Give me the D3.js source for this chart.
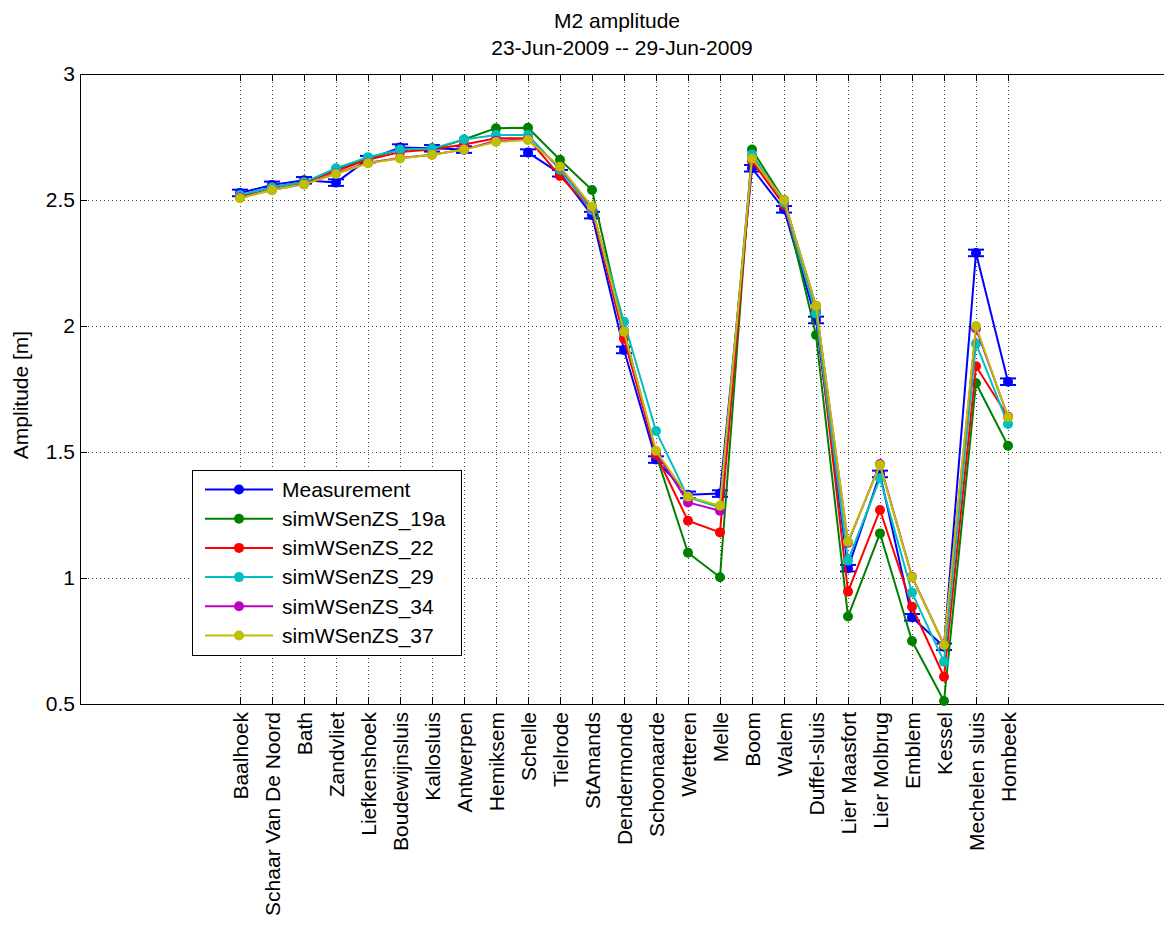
<!DOCTYPE html>
<html>
<head>
<meta charset="utf-8">
<script src="https://cdn.jsdelivr.net/npm/d3@7"></script>
<style>
  html, body { margin: 0; padding: 0; background: #fff; }
  svg { display: block; }
  text { font-family: "Liberation Sans", Arial, sans-serif; fill: #000; }
</style>
</head>
<body>
<svg id="chart" width="1164" height="937"></svg>
<script>
// Stations along the Scheldt / Rupel / Nete
const stations = ["Baalhoek", "Schaar Van De Noord", "Bath", "Zandvliet", "Liefkenshoek",
  "Boudewijnsluis", "Kallosluis", "Antwerpen", "Hemiksem", "Schelle", "Tielrode", "StAmands",
  "Dendermonde", "Schoonaarde", "Wetteren", "Melle", "Boom", "Walem", "Duffel-sluis",
  "Lier Maasfort", "Lier Molbrug", "Emblem", "Kessel", "Mechelen sluis", "Hombeek"];

// M2 amplitude [m]
const measurement = [2.528, 2.560, 2.578, 2.569, 2.662, 2.708, 2.705, 2.700, null, 2.688, 2.606, 2.440,
  1.905, 1.470, 1.330, 1.335, 2.626, 2.463, 2.024, 1.039, 1.413, 0.844, 0.727, 2.290, 1.779];
const measurementErr = 0.013;
const sim19a = [2.515, 2.550, 2.570, 2.620, 2.665, 2.700, 2.700, 2.740, 2.785, 2.787, 2.660, 2.540,
  1.980, 1.490, 1.100, 1.003, 2.700, 2.500, 1.964, 0.847, 1.177, 0.750, 0.512, 1.773, 1.525];
const sim22 = [2.515, 2.550, 2.570, 2.615, 2.660, 2.690, 2.700, 2.720, 2.745, 2.745, 2.595, 2.460,
  1.950, 1.490, 1.227, 1.181, 2.655, 2.480, 2.060, 0.946, 1.270, 0.886, 0.608, 1.840, 1.640];
const sim29 = [2.520, 2.550, 2.570, 2.626, 2.670, 2.700, 2.704, 2.740, 2.758, 2.758, 2.620, 2.460,
  2.017, 1.583, 1.320, 1.280, 2.680, 2.490, 2.050, 1.069, 1.396, 0.942, 0.668, 1.930, 1.611];
const sim34 = [2.510, 2.540, 2.563, 2.605, 2.648, 2.667, 2.680, 2.700, 2.735, 2.740, 2.630, 2.470,
  1.975, 1.500, 1.300, 1.267, 2.665, 2.500, 2.080, 1.140, 1.452, 1.005, 0.735, 1.990, 1.640];
const sim37 = [2.507, 2.540, 2.562, 2.603, 2.646, 2.665, 2.680, 2.700, 2.730, 2.738, 2.632, 2.474,
  1.977, 1.505, 1.323, 1.287, 2.665, 2.500, 2.080, 1.144, 1.448, 1.003, 0.734, 2.000, 1.638];

const yTicks = [0.5, 1, 1.5, 2, 2.5, 3];

const series = [
  { name: "Measurement",     values: measurement, color: "#0000ff", err: true },
  { name: "simWSenZS_19a",   values: sim19a,      color: "#008000" },
  { name: "simWSenZS_22",    values: sim22,       color: "#ff0000" },
  { name: "simWSenZS_29",    values: sim29,       color: "#00bfbf" },
  { name: "simWSenZS_34",    values: sim34,       color: "#bf00bf" },
  { name: "simWSenZS_37",    values: sim37,       color: "#bfbf00" }
];

const FS = 21;
const svg = d3.select("#chart");
const plotL = 80, plotR = 1168, plotT = 74, plotB = 704;

const x = d3.scaleLinear().domain([-5, 29]).range([plotL, plotR]);
const y = d3.scaleLinear().domain([0.5, 3]).range([plotB, plotT]);

// grid
const grid = svg.append("g").attr("stroke", "#444").attr("stroke-width", 1)
  .attr("stroke-dasharray", "1,3").attr("shape-rendering", "crispEdges");
stations.forEach((s, i) => {
  grid.append("line").attr("x1", Math.round(x(i)) + 0.5).attr("x2", Math.round(x(i)) + 0.5)
    .attr("y1", plotT).attr("y2", plotB);
});
yTicks.forEach(t => {
  grid.append("line").attr("x1", plotL).attr("x2", plotR)
    .attr("y1", Math.round(y(t)) + 0.5).attr("y2", Math.round(y(t)) + 0.5);
});

// frame and ticks
const frame = svg.append("g").attr("stroke", "#000").attr("stroke-width", 1).attr("shape-rendering", "crispEdges");
frame.append("rect").attr("x", plotL + 0.5).attr("y", plotT + 0.5)
  .attr("width", plotR - plotL).attr("height", plotB - plotT).attr("fill", "none");
stations.forEach((s, i) => {
  const xi = Math.round(x(i)) + 0.5;
  frame.append("line").attr("x1", xi).attr("x2", xi).attr("y1", plotB).attr("y2", plotB - 7);
  frame.append("line").attr("x1", xi).attr("x2", xi).attr("y1", plotT).attr("y2", plotT + 7);
});
yTicks.forEach(t => {
  const yi = Math.round(y(t)) + 0.5;
  frame.append("line").attr("x1", plotL).attr("x2", plotL + 7).attr("y1", yi).attr("y2", yi);
});

// tick labels
svg.append("g").selectAll("text").data(yTicks).join("text")
  .attr("x", plotL - 5).attr("y", d => y(d)).attr("dy", "0.35em")
  .attr("text-anchor", "end").attr("font-size", FS)
  .text(d => d3.format("~g")(d));

svg.append("g").selectAll("text").data(stations).join("text")
  .attr("transform", (d, i) => `translate(${x(i) + 1},${plotB + 8}) rotate(-90)`)
  .attr("text-anchor", "end").attr("dy", "0.35em").attr("font-size", FS)
  .text(d => d);

// titles
svg.append("text").attr("x", 617).attr("y", 28).attr("text-anchor", "middle")
  .attr("font-size", FS).text("M2 amplitude");
svg.append("text").attr("x", 622).attr("y", 55).attr("text-anchor", "middle")
  .attr("font-size", FS).text("23-Jun-2009 -- 29-Jun-2009");
svg.append("text").attr("transform", `translate(28,395) rotate(-90)`)
  .attr("text-anchor", "middle").attr("font-size", FS).text("Amplitude [m]");

// series
const line = d3.line().defined(d => d != null).x((d, i) => x(i)).y(d => y(d));
const plot = svg.append("g");
series.forEach(s => {
  const g = plot.append("g");
  g.append("path").datum(s.values).attr("d", line)
    .attr("fill", "none").attr("stroke", s.color).attr("stroke-width", 2)
    .attr("stroke-linejoin", "round");
  const pts = s.values.map((v, i) => ({ v, i })).filter(d => d.v != null);
  if (s.err) {
    pts.forEach(d => {
      const cx = x(d.i), y1 = y(d.v - measurementErr), y2 = y(d.v + measurementErr);
      g.append("line").attr("x1", cx).attr("x2", cx).attr("y1", y1).attr("y2", y2)
        .attr("stroke", s.color).attr("stroke-width", 2);
      [y1, y2].forEach(yy => g.append("line").attr("x1", cx - 8).attr("x2", cx + 8)
        .attr("y1", yy).attr("y2", yy).attr("stroke", s.color).attr("stroke-width", 2));
    });
  }
  g.selectAll("circle").data(pts).join("circle")
    .attr("cx", d => x(d.i)).attr("cy", d => y(d.v)).attr("r", 5).attr("fill", s.color);
});

// legend
const lg = svg.append("g");
lg.append("rect").attr("x", 192.5).attr("y", 470.5).attr("width", 269).attr("height", 185)
  .attr("fill", "#fff").attr("stroke", "#000").attr("stroke-width", 1);
series.forEach((s, k) => {
  const yy = 489.5 + k * 29.2;
  lg.append("line").attr("x1", 205).attr("x2", 273).attr("y1", yy).attr("y2", yy)
    .attr("stroke", s.color).attr("stroke-width", 2);
  lg.append("circle").attr("cx", 239).attr("cy", yy).attr("r", 5).attr("fill", s.color);
  lg.append("text").attr("x", 282).attr("y", yy).attr("dy", "0.35em")
    .attr("font-size", FS).text(s.name);
});
</script>
</body>
</html>
